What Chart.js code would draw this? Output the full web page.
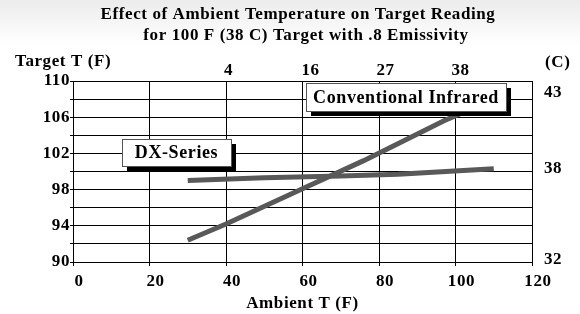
<!DOCTYPE html>
<html>
<head>
<meta charset="utf-8">
<script src="https://cdn.jsdelivr.net/npm/chart.js@4"></script>
<style>
  html, body { margin: 0; padding: 0; background: #fff; }
  #wrap { width: 580px; height: 314px; }
</style>
</head>
<body>
<div id="wrap"><canvas id="tempChart"></canvas></div>
<script>
// data (ambient F -> reading F)
const dxAmbient = [30, 50, 70, 85, 110];
const dxReading = [99.0, 99.3, 99.5, 99.7, 100.3];
const irAmbient = [30, 40, 60, 76, 97, 110];
const irReading = [92.4, 94.2, 98.1, 101.2, 105.6, 108.0];

const titleLines = [
  "Effect of Ambient Temperature on Target Reading",
  "for 100 F (38 C) Target with .8 Emissivity",
];
const topTicksC = [4, 16, 27, 38];
const rightTicksC = [32, 38, 43];

// callout boxes: label + anchor (top-left) in data units
const callouts = [
  { text: "DX-Series", x: 12.8, y: 103.6, w: 109, h: 27 },
  { text: "Conventional Infrared", x: 60.8, y: 109.8, w: 200, h: 28 },
];

const FONT = "'Liberation Serif', 'Times New Roman', serif";
const tickFont = { family: FONT, size: 17, weight: "bold" };

const bgPlugin = {
  id: "bg",
  beforeDraw(chart) {
    const c = chart.ctx;
    const g = c.createLinearGradient(0, 0, 0, 45);
    g.addColorStop(0, "#ececec");
    g.addColorStop(1, "#ffffff");
    c.save();
    c.fillStyle = "#fff";
    c.fillRect(0, 0, chart.width, chart.height);
    c.fillStyle = g;
    c.fillRect(0, 0, chart.width, 45);
    c.restore();
    // the old chart's lettering is wide
    c.letterSpacing = "0.6px";
  },
};

const labelsPlugin = {
  id: "labels",
  afterDraw(chart) {
    const c = chart.ctx;
    c.save();
    c.fillStyle = "#000";
    c.textBaseline = "middle";
    c.font = "bold 17px " + FONT;
    c.textAlign = "center";
    c.fillText(titleLines[0], 298, 15);
    c.fillText(titleLines[1], 306, 36);
    c.textAlign = "left";
    c.fillText("Target T (F)", 15, 62);
    c.fillText("(C)", 545, 63);
    c.restore();
  },
  afterDatasetsDraw(chart) {
    const c = chart.ctx;
    const xs = chart.scales.x;
    const ys = chart.scales.y;
    c.save();
    callouts.forEach((b) => {
      const left = Math.round(xs.getPixelForValue(b.x));
      const top = Math.round(ys.getPixelForValue(b.y));
      c.fillStyle = "#000";
      c.fillRect(left + 5, top + 5, b.w, b.h);
      c.fillStyle = "#fff";
      c.fillRect(left, top, b.w, b.h);
      c.strokeStyle = "#555";
      c.lineWidth = 1;
      c.strokeRect(left + 0.5, top + 0.5, b.w, b.h);
      c.fillStyle = "#000";
      c.font = "bold 18px " + FONT;
      c.textAlign = "center";
      c.textBaseline = "middle";
      c.fillText(b.text, left + b.w / 2, top + b.h / 2 + 1);
    });
    c.restore();
  },
};

const ctx = document.getElementById("tempChart");

new Chart(ctx, {
  type: "scatter",
  data: {
    datasets: [
      {
        label: "DX-Series",
        data: dxAmbient.map((x, i) => ({ x: x, y: dxReading[i] })),
        showLine: true,
        borderColor: "#595959",
        borderWidth: 5,
        pointRadius: 0,
        borderCapStyle: "butt",
      },
      {
        label: "Conventional Infrared",
        data: irAmbient.map((x, i) => ({ x: x, y: irReading[i] })),
        showLine: true,
        borderColor: "#595959",
        borderWidth: 5,
        pointRadius: 0,
        borderCapStyle: "butt",
      },
    ],
  },
  plugins: [bgPlugin, labelsPlugin],
  options: {
    responsive: true,
    maintainAspectRatio: false,
    animation: false,
    layout: { padding: { top: 45, left: 0, right: 0, bottom: 0 } },
    plugins: {
      legend: { display: false },
      tooltip: { enabled: false },
      title: { display: false },
    },
    scales: {
      x: {
        type: "linear",
        position: "bottom",
        min: 0,
        max: 120,
        ticks: {
          stepSize: 20,
          color: "#000",
          font: tickFont,
          padding: 5,
          labelOffset: 6,
        },
        grid: { color: "#000", lineWidth: 1, tickLength: 4, tickColor: "#000" },
        border: { color: "#000", width: 1 },
        title: {
          display: true,
          text: "Ambient T (F)",
          color: "#000",
          font: tickFont,
          padding: { top: 2, bottom: 0 },
        },
        afterFit(scale) { scale.height = 52; },
      },
      xTop: {
        type: "linear",
        position: "top",
        min: -18.8,
        max: 48.46,
        afterBuildTicks(scale) {
          scale.ticks = topTicksC.map((v) => ({ value: v }));
        },
        ticks: { color: "#000", font: tickFont, padding: 0 },
        grid: { display: false, drawTicks: false },
        border: { color: "#000", width: 1 },
        afterFit(scale) { scale.height = 36; },
      },
      y: {
        type: "linear",
        position: "left",
        min: 90,
        max: 110,
        ticks: {
          stepSize: 2,
          autoSkip: false,
          color: "#000",
          font: tickFont,
          padding: 0,
          callback: (v) => ((v - 90) % 4 === 0 ? v : ""),
        },
        grid: { color: "#000", lineWidth: 1, tickLength: 3, tickColor: "#000" },
        border: { color: "#000", width: 1 },
        afterFit(scale) { scale.width = 73; },
      },
      yRight: {
        type: "linear",
        position: "right",
        min: 31.87,
        max: 43.79,
        afterBuildTicks(scale) {
          scale.ticks = rightTicksC.map((v) => ({ value: v }));
        },
        ticks: { color: "#000", font: tickFont, padding: 12 },
        grid: { display: false, drawTicks: false },
        border: { color: "#000", width: 1 },
        afterFit(scale) { scale.width = 48; },
      },
    },
  },
});
</script>
</body>
</html>
